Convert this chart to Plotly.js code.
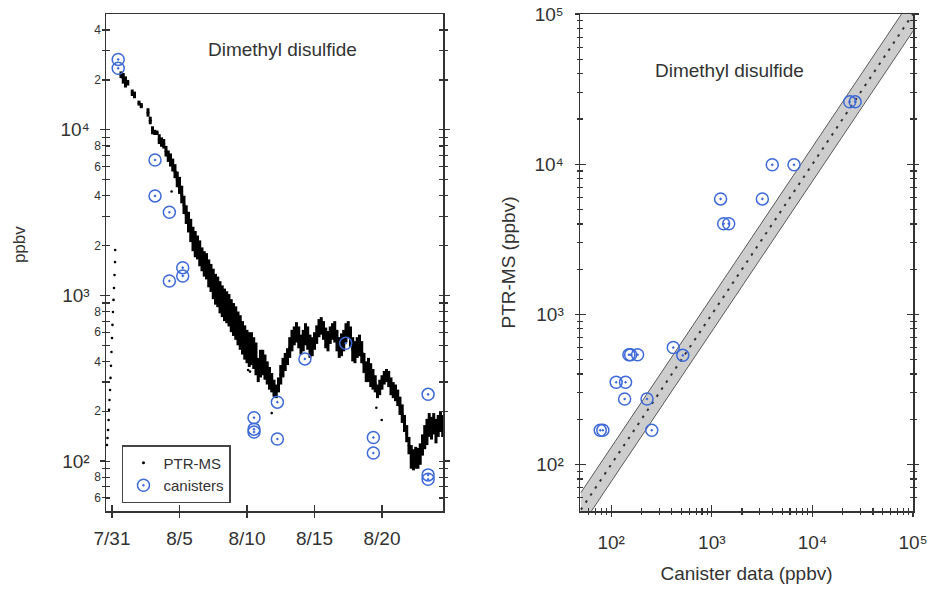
<!DOCTYPE html>
<html>
<head>
<meta charset="utf-8">
<script src="https://cdn.plot.ly/plotly-3.0.1.min.js"></script>
<style>
  html, body { margin: 0; padding: 0; background: #fff; }
  #chart { width: 932px; height: 590px; }
</style>
</head>
<body>
<div id="chart"></div>
<script>
// ---- PTR-MS time series (ppbv): low / high envelope of the 1-s cloud, 4-hour bins from 7/31 12:00 ----
const ptrBinStart = '2012-07-31T12:00:00Z';
const ptrBinHours = 4;
const ptrLow = [
  null, 20500, 19000, 18000, 18500, null, 16000, 15500, null, 14000,
  13500, null, null, 12000, 10800, 9400, 9300, 9300, 8200, 7900,
  7700, 6900, 6400, 6000, 5600, 5100, 4500, 4100, 3600, 3100,
  2700, 2400, 2100, 1850, 1700, 1650, 1500, 1400, 1300, 1250,
  1120, 1050, 950, 880, 850, 780, 740, 700, 680, 650,
  600, 570, 540, 500, 470, 440, 410, 390, 370, 380,
  360, 330, 300, 320, 330, 310, 290, 270, 260, 245,
  240, 260, 290, 320, 350, 380, 420, 460, 500, 520,
  480, 440, 460, 500, 470, 420, 430, 470, 510, 560,
  580, 540, 480, 460, 510, 540, 520, 460, 420, 430,
  460, 520, 560, 490, 400, 390, 420, 430, 390, 340,
  300, 300, 280, 270, 260, 240, 250, 270, 290, 300,
  280, 250, 240, 230, 215, 190, 170, 150, 130, 110,
  90, 88, 90, 90, 95, 108, 118, 125, 140, 135,
  145, 128, 140, 150, 140
];
const ptrHigh = [
  null, 22500, 22000, 21000, 20000, null, 17500, 17000, null, 15000,
  14500, null, null, 13500, 12000, 10500, 10000, 9900, 9400, 9000,
  8800, 8000, 7500, 7200, 6700, 6200, 5600, 5200, 4600, 4000,
  3500, 3200, 2900, 2600, 2450, 2300, 2150, 1950, 1850, 1800,
  1650, 1550, 1450, 1350, 1300, 1220, 1150, 1100, 1060, 1020,
  950, 900, 860, 800, 760, 700, 660, 620, 600, 600,
  560, 520, 420, 470, 470, 440, 400, 370, 340, 310,
  290, 320, 380, 420, 450, 480, 560, 620, 650, 690,
  650, 580, 620, 680, 650, 580, 560, 600, 660, 720,
  740, 700, 640, 610, 650, 680, 700, 620, 560, 590,
  620, 680, 700, 650, 560, 530, 560, 580, 530, 450,
  400, 420, 390, 360, 330, 290, 310, 330, 350, 360,
  350, 320, 300, 290, 270, 245, 220, 190, 165, 140,
  125, 118, 122, 120, 128, 145, 165, 180, 195, 185,
  195, 180, 190, 200, 190
];

// Start-up rise before the first plateau, plus isolated readings off the main cloud
const ptrSingleTimes = [
  '2012-07-30 15:00', '2012-07-30 16:00', '2012-07-30 17:00', '2012-07-30 18:00',
  '2012-07-30 18:40', '2012-07-30 19:30', '2012-07-30 20:30', '2012-07-30 21:20',
  '2012-07-30 22:10', '2012-07-30 23:05', '2012-07-31 00:00', '2012-07-31 00:50',
  '2012-07-31 01:45', '2012-07-31 02:40', '2012-07-31 03:30', '2012-07-31 04:30',
  '2012-07-31 05:20', '2012-07-31 05:40',
  '2012-08-04 10:00', '2012-08-10 02:00', '2012-08-10 05:20', '2012-08-11 20:00',
  '2012-08-19 14:00', '2012-08-19 23:30'
];
const ptrSingleValues = [
  125, 138, 154, 177, 204, 234, 269, 318, 376, 456, 554, 664, 795, 940, 1110, 1330, 1590, 1880,
  4240, 355, 347, 195, 210, 177
];

// ---- Canister samples (ppbv) ----
const canisterTimes = [
  '2012-07-31 11:00', '2012-07-31 11:00', '2012-08-03 04:30', '2012-08-03 04:30',
  '2012-08-04 06:00', '2012-08-04 06:00', '2012-08-05 05:45', '2012-08-05 05:45',
  '2012-08-10 12:30', '2012-08-10 12:30', '2012-08-10 12:30', '2012-08-12 06:00',
  '2012-08-12 06:00', '2012-08-14 07:00', '2012-08-17 07:30', '2012-08-19 08:40',
  '2012-08-19 08:40', '2012-08-23 10:00', '2012-08-23 10:00', '2012-08-23 10:00'
];
const canisterValues = [
  26600, 23500, 6570, 3990, 3180, 1223, 1472, 1312,
  183, 156, 150, 227, 136, 414, 515, 139, 112, 253, 82.6, 77.8
];
// PTR-MS reading at each canister's sampling time
const ptrAtCanister = [
  26000, 26000, 9900, 9900, 5870, 5870, 4010, 4010,
  538, 538, 538, 273, 273, 601, 533, 353, 353, 169, 169, 169
];

// 1:1 reference line and its uncertainty band
const oneToOneX = [50, 100000];
const bandFactor = 1.3;

// ---- axis ticks ----
const dateTickVals = ['2012-07-31', '2012-08-05', '2012-08-10', '2012-08-15', '2012-08-20'];
const dateTickText = ['7/31', '8/5', '8/10', '8/15', '8/20'];
const decadeVals = [100, 1000, 10000, 100000];
const decadeText = ['10²', '10³', '10⁴', '10⁵'];
// left panel: even-digit ticks carry small digit labels, odd digits are bare ticks
const leftDigitVals = [60, 80, 200, 400, 600, 800, 2000, 4000, 6000, 8000, 20000, 40000];
const leftDigitText = ['6', '8', '2', '4', '6', '8', '2', '4', '6', '8', '2', '4'];
const leftOddVals = [70, 90, 300, 500, 700, 900, 3000, 5000, 7000, 9000, 30000];
const logMinorVals = [60, 70, 80, 90, 200, 300, 400, 500, 600, 700, 800, 900,
  2000, 3000, 4000, 5000, 6000, 7000, 8000, 9000,
  20000, 30000, 40000, 50000, 60000, 70000, 80000, 90000];

// ---- derived plotting arrays ----
const binT = [], binMid = [], binPlus = [], binMinus = [];
const t0 = Date.parse(ptrBinStart);
ptrLow.forEach((lo, i) => {
  const hi = ptrHigh[i];
  if (lo == null || hi == null) return;
  const mid = Math.sqrt(lo * hi);
  binT.push(new Date(t0 + i * ptrBinHours * 3600e3).toISOString().slice(0, 16).replace('T', ' '));
  binMid.push(mid);
  binPlus.push(hi - mid);
  binMinus.push(mid - lo);
});
const bandUpper = oneToOneX.map(v => v * bandFactor);
const bandLower = oneToOneX.map(v => v / bandFactor);
const leftDecadeVals = decadeVals.slice(0, 3);
const leftDecadeText = decadeText.slice(0, 3);
const leftAllMinor = leftDigitVals.concat(leftOddVals).sort((a, b) => a - b);
const leftInnerMinor = leftOddVals.concat(leftDecadeVals).sort((a, b) => a - b);

const ink = '#333';
const blue = '#3d6ad6';
const canisterMarker = { symbol: 'circle-open-dot', size: 12, color: blue, line: { color: blue, width: 1.5 } };

const traces = [
  {
    x: binT, y: binMid, type: 'scatter', mode: 'markers', name: 'PTR-MS',
    marker: { size: 3, color: '#000' },
    error_y: { type: 'data', symmetric: false, array: binPlus, arrayminus: binMinus,
               color: '#000', thickness: 3, width: 0 },
    xaxis: 'x', yaxis: 'y'
  },
  {
    x: ptrSingleTimes, y: ptrSingleValues, type: 'scatter', mode: 'markers', showlegend: false,
    marker: { size: 2.6, color: '#000' }, xaxis: 'x', yaxis: 'y'
  },
  {
    x: canisterTimes, y: canisterValues, type: 'scatter', mode: 'markers', name: 'canisters',
    marker: canisterMarker, xaxis: 'x', yaxis: 'y'
  },
  // overlay axes carry the inward half of the crossing ticks
  { x: [], y: [], type: 'scatter', mode: 'markers', showlegend: false, xaxis: 'x3', yaxis: 'y3', hoverinfo: 'skip' },
  { x: [], y: [], type: 'scatter', mode: 'markers', showlegend: false, xaxis: 'x4', yaxis: 'y4', hoverinfo: 'skip' },
  // right panel: band, 1:1 line, canister comparison
  {
    x: oneToOneX, y: bandLower, type: 'scatter', mode: 'lines', showlegend: false,
    line: { color: '#5a5a5a', width: 1 }, xaxis: 'x2', yaxis: 'y2', hoverinfo: 'skip'
  },
  {
    x: oneToOneX, y: bandUpper, type: 'scatter', mode: 'lines', showlegend: false, fill: 'tonexty',
    fillcolor: '#cdcdcd', line: { color: '#5a5a5a', width: 1 }, xaxis: 'x2', yaxis: 'y2', hoverinfo: 'skip'
  },
  {
    x: oneToOneX, y: oneToOneX, type: 'scatter', mode: 'lines', showlegend: false,
    line: { color: '#333', width: 2, dash: '2.5px,6px' }, xaxis: 'x2', yaxis: 'y2'
  },
  {
    x: canisterValues, y: ptrAtCanister, type: 'scatter', mode: 'markers', showlegend: false,
    marker: canisterMarker, xaxis: 'x2', yaxis: 'y2'
  }
];

const leftRange = ['2012-07-30 13:20', '2012-08-24 12:30'];
const logRange = [Math.log10(50), Math.log10(50000)];
const cmpRange = [Math.log10(49), 5];
const axisBase = { showgrid: false, zeroline: false, tickcolor: ink, tickwidth: 1.3 };
const lineStyle = { showline: true, linecolor: ink, linewidth: 1.5 };

const layout = {
  width: 932, height: 590,
  margin: { l: 106, r: 19, t: 14, b: 79 },
  paper_bgcolor: '#fff', plot_bgcolor: '#fff',
  font: { family: '"Liberation Sans", Arial, sans-serif', color: ink },
  showlegend: true,
  legend: {
    x: 0.0198, y: 0.1327, xanchor: 'left', yanchor: 'top', traceorder: 'normal',
    bgcolor: '#fff', bordercolor: '#444', borderwidth: 1.5,
    font: { size: 15, color: ink }, tracegroupgap: 0
  },
  xaxis: Object.assign({}, axisBase, lineStyle, {
    type: 'date', domain: [0, 0.4176], anchor: 'y', range: leftRange, mirror: true,
    tickmode: 'array', tickvals: dateTickVals, ticktext: dateTickText,
    ticks: 'outside', ticklen: 5, tickfont: { size: 19 }, ticklabelstandoff: 5
  }),
  // decade labels + outward half of every tick
  yaxis: Object.assign({}, axisBase, lineStyle, {
    type: 'log', anchor: 'x', range: logRange, mirror: 'ticks',
    tickmode: 'array', tickvals: leftDecadeVals, ticktext: leftDecadeText,
    ticks: 'outside', ticklen: 5, tickfont: { size: 19 }, ticklabelstandoff: 6,
    minor: { tickmode: 'array', tickvals: leftAllMinor, ticks: 'outside', ticklen: 3, tickcolor: ink, tickwidth: 1.2 }
  }),
  xaxis3: Object.assign({}, axisBase, {
    type: 'date', overlaying: 'x', anchor: 'y3', range: leftRange,
    tickmode: 'array', tickvals: dateTickVals, showticklabels: false, showline: false,
    ticks: 'inside', ticklen: 6
  }),
  // digit labels + inward half of every tick
  yaxis3: Object.assign({}, axisBase, {
    type: 'log', overlaying: 'y', anchor: 'x3', range: logRange, mirror: 'ticks',
    tickmode: 'array', tickvals: leftDigitVals, ticktext: leftDigitText,
    showticklabels: true, tickfont: { size: 12 }, ticklabelstandoff: 4, showline: false,
    ticks: 'inside', ticklen: 4,
    minor: { tickmode: 'array', tickvals: leftInnerMinor, ticks: 'inside', ticklen: 4, tickcolor: ink, tickwidth: 1.2 }
  }),
  xaxis2: Object.assign({}, axisBase, lineStyle, {
    type: 'log', domain: [0.5874, 1], anchor: 'y2', range: cmpRange, mirror: true,
    tickmode: 'array', tickvals: decadeVals, ticktext: decadeText,
    ticks: 'outside', ticklen: 4, tickfont: { size: 19 }, ticklabelstandoff: 10,
    minor: { tickmode: 'array', tickvals: logMinorVals, ticks: 'outside', ticklen: 2, tickcolor: ink, tickwidth: 1.2 },
    title: { text: 'Canister data (ppbv)', font: { size: 19 }, standoff: 14 }
  }),
  yaxis2: Object.assign({}, axisBase, lineStyle, {
    type: 'log', anchor: 'x2', range: cmpRange, mirror: 'ticks',
    tickmode: 'array', tickvals: decadeVals, ticktext: decadeText,
    ticks: 'outside', ticklen: 4, tickfont: { size: 19 }, ticklabelstandoff: 7,
    minor: { tickmode: 'array', tickvals: logMinorVals, ticks: 'outside', ticklen: 2, tickcolor: ink, tickwidth: 1.2 },
    title: { text: 'PTR-MS (ppbv)', font: { size: 19 }, standoff: 14 }
  }),
  xaxis4: Object.assign({}, axisBase, {
    type: 'log', overlaying: 'x2', anchor: 'y4', range: cmpRange,
    tickmode: 'array', tickvals: decadeVals, showticklabels: false, showline: false,
    ticks: 'inside', ticklen: 6,
    minor: { tickmode: 'array', tickvals: logMinorVals, ticks: 'inside', ticklen: 3, tickcolor: ink, tickwidth: 1.2 }
  }),
  yaxis4: Object.assign({}, axisBase, {
    type: 'log', overlaying: 'y2', anchor: 'x4', range: cmpRange, mirror: 'ticks',
    tickmode: 'array', tickvals: decadeVals, showticklabels: false, showline: false,
    ticks: 'inside', ticklen: 6,
    minor: { tickmode: 'array', tickvals: logMinorVals, ticks: 'inside', ticklen: 3, tickcolor: ink, tickwidth: 1.2 }
  }),
  annotations: [
    // left-panel axis title
    { text: 'ppbv', xref: 'paper', yref: 'paper', x: -0.1078, y: 0.535, textangle: -90,
      xanchor: 'center', yanchor: 'middle', showarrow: false, font: { size: 17, color: ink } },
    { text: 'Dimethyl disulfide', xref: 'paper', yref: 'paper', x: 0.2193, y: 0.9276,
      xanchor: 'center', yanchor: 'middle', showarrow: false, font: { size: 19, color: ink } },
    { text: 'Dimethyl disulfide', xref: 'paper', yref: 'paper', x: 0.772, y: 0.8873,
      xanchor: 'center', yanchor: 'middle', showarrow: false, font: { size: 19, color: ink } }
  ]
};

Plotly.newPlot('chart', traces, layout, { staticPlot: true, displayModeBar: false });
</script>
</body>
</html>
